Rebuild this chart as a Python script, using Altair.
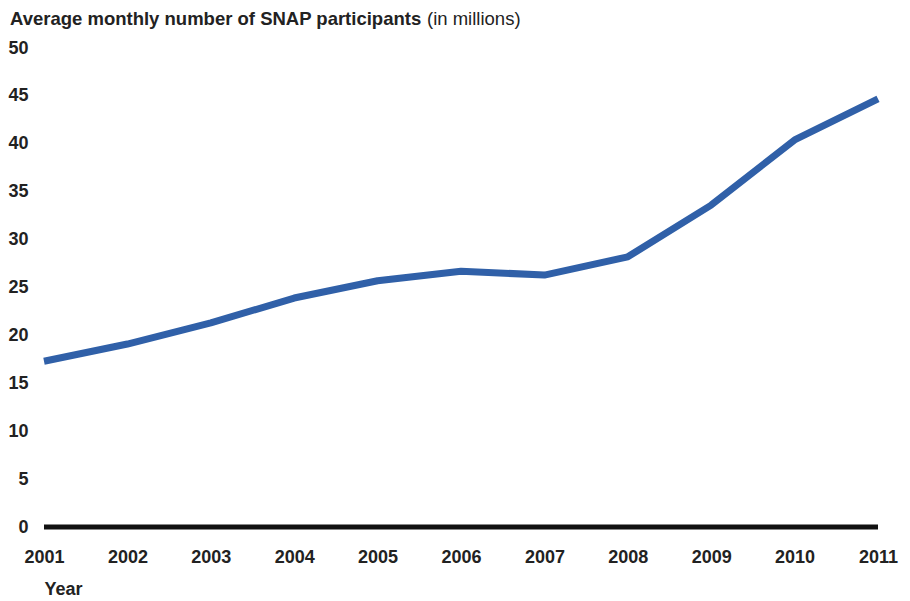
import altair as alt
import pandas as pd

years = [2001, 2002, 2003, 2004, 2005, 2006, 2007, 2008, 2009, 2010, 2011]
participants = [17.3, 19.1, 21.3, 23.9, 25.7, 26.7, 26.3, 28.2, 33.6, 40.4, 44.7]
y_ticks = [0, 5, 10, 15, 20, 25, 30, 35, 40, 45, 50]
title_bold = "Average monthly number of SNAP participants"
title_normal = "(in millions)"

df = pd.DataFrame({"year": years, "value": participants})
one = pd.DataFrame({"t1": [title_bold], "t2": [title_normal]})
FONT = "Liberation Sans"
TXT = "#222222"

x_enc = alt.X("year:Q", scale=alt.Scale(domain=[2001, 2011], nice=False, zero=False),
              axis=alt.Axis(values=years, format="d", domain=False, ticks=False, grid=False,
                            labelFont=FONT, labelFontSize=18, labelFontWeight="bold",
                            labelColor=TXT, labelPadding=21, labelFlush=False,
                            title="Year", titleFont=FONT, titleFontSize=18, titleFontWeight="bold",
                            titleColor=TXT, titleAlign="left", titleAnchor="start",
                            titleX=0, titleY=62, titleBaseline="middle"))
y_enc = alt.Y("value:Q", scale=alt.Scale(domain=[0, 50], nice=False),
              axis=alt.Axis(values=y_ticks, domain=False, ticks=False, grid=False,
                            labelFont=FONT, labelFontSize=18, labelFontWeight="bold",
                            labelColor=TXT, labelPadding=16, title=None))

line = alt.Chart(df).mark_line(color="#3060a8", strokeWidth=7, strokeCap="butt", strokeJoin="round").encode(
    x=x_enc, y=y_enc)

base = alt.Chart(one).mark_rule(color="#111111", strokeWidth=5).encode(y=alt.datum(0))

t1 = alt.Chart(one).mark_text(font=FONT, fontSize=18.5, fontWeight="bold", align="left",
                              baseline="alphabetic", color=TXT).encode(
    text="t1:N", x=alt.value(-34), y=alt.value(-23))
t2 = alt.Chart(one).mark_text(font=FONT, fontSize=18.5, fontWeight="normal",
                              align="left", baseline="alphabetic", color=TXT).encode(
    text="t2:N", x=alt.value(383), y=alt.value(-23))

chart = alt.layer(base, line, t1, t2).properties(
    width=834, height=479,
    autosize=alt.AutoSizeParams(type="none"),
    padding={"left": 36, "top": 40, "right": 24, "bottom": 70},
    background="white",
).configure_view(strokeWidth=0, stroke="transparent")

chart.save("out.html", embed_options={"renderer": "svg", "actions": False})
